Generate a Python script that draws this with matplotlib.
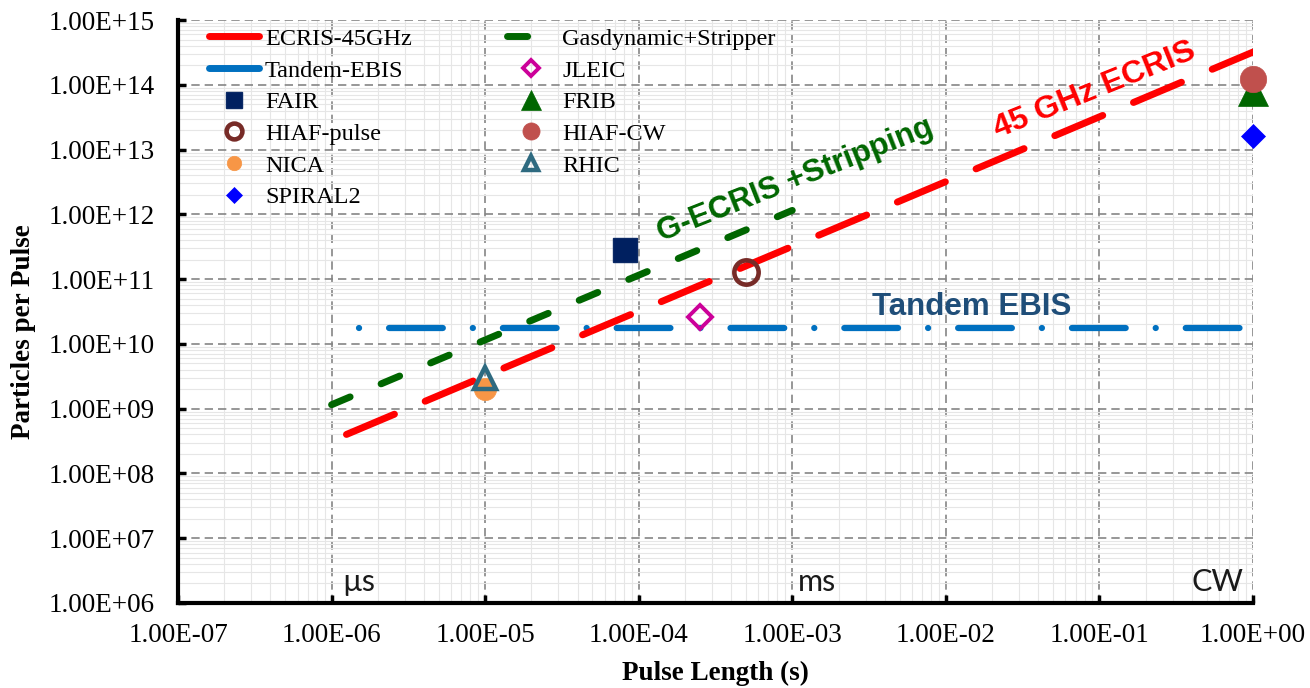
import numpy as np
import matplotlib
matplotlib.use("Agg")
import matplotlib.pyplot as plt
from matplotlib.lines import Line2D
from matplotlib.ticker import FixedLocator, FuncFormatter, NullFormatter

# ---------------------------------------------------------------------------
# Data
# ---------------------------------------------------------------------------
# Ion-source capability lines (pulse length [s] -> particles per pulse)
ecris_pulse = [1.25e-6, 1.0]
ecris_ppp = [4.0e8, 3.2e14]

gas_pulse = [1.0e-6, 1.0e-3]
gas_ppp = [1.15e9, 1.15e12]

ebis_pulse = [1.5e-6, 1.0]
ebis_ppp = [1.75e10, 1.75e10]

# Facility requirements
facility_names = ["FAIR", "HIAF-pulse", "NICA", "SPIRAL2",
                  "JLEIC", "FRIB", "HIAF-CW", "RHIC"]
facility_pulse = [8.1e-5, 5.0e-4, 1.0e-5, 1.0, 2.5e-4, 1.0, 1.0, 1.0e-5]
facility_ppp = [2.8e11, 1.28e11, 2.0e9, 1.6e13, 2.6e10, 8.0e13, 1.22e14, 3.0e9]

series_names = ["ECRIS-45GHz", "Gasdynamic+Stripper", "Tandem-EBIS"]

x_decades = list(range(-7, 1))
y_decades = list(range(6, 16))

unit_positions = [1e-6, 1e-3, 1e0]
unit_labels = ["\u00b5s", "ms", "CW"]

# ---------------------------------------------------------------------------
# Styling
# ---------------------------------------------------------------------------
SERIF = "Liberation Serif"
SANS = "Liberation Sans"
HUMANIST = ["Lato", "DejaVu Sans"]

RED = "#FF0000"
GREEN = "#006600"
BLUE = "#0070C0"

marker_styles = {
    "FAIR":       dict(marker="s", ms=17.5, mfc="#002060", mec="#0B2A66", mew=1.0),
    "HIAF-pulse": dict(marker="o", ms=17.5, mfc="none", mec="#772B27", mew=3.3),
    "NICA":       dict(marker="o", ms=16, mfc="#F79646", mec="#F79646", mew=0.5),
    "SPIRAL2":    dict(marker="D", ms=12, mfc="#0000FF", mec="#0000FF", mew=0.5),
    "JLEIC":      dict(marker="D", ms=12.5, mfc="none", mec="#CC0099", mew=2.8),
    "FRIB":       dict(marker="^", ms=22, mfc=GREEN, mec=GREEN, mew=0.5),
    "HIAF-CW":    dict(marker="o", ms=19, mfc="#C0504D", mec="#C0504D", mew=0.5),
    "RHIC":       dict(marker="^", ms=15.5, mfc="none", mec="#2E6A80", mew=3.2),
}

fig = plt.figure(figsize=(13.1, 6.88), dpi=100)
fig.patch.set_facecolor("white")
ax = fig.add_axes([178 / 1310, 85 / 688, 1075 / 1310, 583 / 688])

ax.set_xscale("log")
ax.set_yscale("log")
ax.set_xlim(10.0 ** x_decades[0], 10.0 ** x_decades[-1])
ax.set_ylim(10.0 ** y_decades[0], 10.0 ** y_decades[-1])


def decade_ticks(decades):
    major = [10.0 ** d for d in decades]
    minor = [m * 10.0 ** d for d in decades[:-1] for m in range(2, 10)]
    return major, minor


x_major, x_minor = decade_ticks(x_decades)
y_major, y_minor = decade_ticks(y_decades)
ax.xaxis.set_major_locator(FixedLocator(x_major))
ax.yaxis.set_major_locator(FixedLocator(y_major))
ax.xaxis.set_minor_locator(FixedLocator(x_minor))
ax.yaxis.set_minor_locator(FixedLocator(y_minor))
ax.xaxis.set_minor_formatter(NullFormatter())
ax.yaxis.set_minor_formatter(NullFormatter())

sci = FuncFormatter(lambda v, pos: f"{v:.2E}")
ax.xaxis.set_major_formatter(sci)
ax.yaxis.set_major_formatter(sci)

# Grid: light solid minor lines, grey dashed major lines
ax.set_axisbelow(True)
ax.grid(which="minor", color="#E6E6E6", lw=0.8, ls="-")
ax.grid(which="major", color="#858585", lw=1.2, ls=(0, (5, 3)))

for side in ("top", "right"):
    ax.spines[side].set_visible(False)
for side in ("left", "bottom"):
    ax.spines[side].set_linewidth(3)
    ax.spines[side].set_color("black")

ax.tick_params(which="major", direction="in", length=6, width=2.5, color="black",
               top=False, right=False, labelsize=19.5, labelfontfamily=SERIF)
ax.tick_params(which="minor", length=0)
ax.tick_params(axis="y", which="major", pad=16.5)
ax.tick_params(axis="x", which="major", pad=14.5)

# Source capability lines
ax.plot(ebis_pulse, ebis_ppp, color=BLUE, lw=4.5,
        ls=(0, (0.01, 4.8, 8.6, 4.8)), dash_capstyle="round", zorder=3)
ax.plot(gas_pulse, gas_ppp, color=GREEN, lw=5,
        ls=(0, (2.9, 4.84)), dash_capstyle="round", zorder=4)
ax.plot(ecris_pulse, ecris_ppp, color=RED, lw=5,
        ls=(0, (7.5, 4.8)), dash_capstyle="round", zorder=5)

# Facility points
handles = {}
for name, x, y in zip(facility_names, facility_pulse, facility_ppp):
    (h,) = ax.plot([x], [y], ls="none", clip_on=False, zorder=6,
                   **marker_styles[name])
    handles[name] = h

# Legend (filled column by column)
red_proxy = Line2D([], [], color=RED, lw=5, solid_capstyle="round")
blue_proxy = Line2D([], [], color=BLUE, lw=5, solid_capstyle="round")
green_proxy = Line2D([], [], color=GREEN, lw=5, ls=(0, (2.9, 4.84)),
                     dash_capstyle="round")
leg_handles = [red_proxy, blue_proxy, handles["FAIR"], handles["HIAF-pulse"],
               handles["NICA"], handles["SPIRAL2"],
               green_proxy, handles["JLEIC"], handles["FRIB"],
               handles["HIAF-CW"], handles["RHIC"]]
leg_labels = [series_names[0], series_names[2], "FAIR", "HIAF-pulse", "NICA",
              "SPIRAL2", series_names[1], "JLEIC", "FRIB", "HIAF-CW", "RHIC"]
ax.legend(leg_handles, leg_labels, ncol=2, loc="upper left",
          bbox_to_anchor=(0.0216, 1.0), borderaxespad=0, borderpad=0.32,
          frameon=False, prop={"family": SERIF, "size": 17.5},
          handlelength=2.05, handletextpad=0.25, columnspacing=3.9,
          labelspacing=0.4, markerscale=0.65)

# Annotations
ax.text(0.853, 0.880, "45 GHz ECRIS", transform=ax.transAxes, rotation=22,
        rotation_mode="anchor", ha="center", va="center", color=RED,
        fontsize=23, fontweight="bold", family=SANS, zorder=7)
ax.text(0.574, 0.7256, "G-ECRIS +Stripping", transform=ax.transAxes,
        rotation=21.5, rotation_mode="anchor", ha="center", va="center",
        color=GREEN, fontsize=22.5, fontweight="bold", family=SANS, zorder=7)
ax.text(0.7386, 0.5077, "Tandem EBIS", transform=ax.transAxes,
        ha="center", va="center", color="#1F4E79", fontsize=22.5,
        fontweight="bold", family=SANS, zorder=7)

unit_offsets = [(7.5, 8.5, "left"), (4.3, 8.5, "left"), (-6.5, 8.5, "right")]
for xpos, label, (dx, dy, ha) in zip(unit_positions, unit_labels, unit_offsets):
    ax.annotate(label, xy=(xpos, 1e6), xytext=(dx, dy), textcoords="offset points",
                ha=ha, va="baseline", fontsize=22, family=HUMANIST,
                color="#1A1A1A", zorder=7)

ax.set_xlabel("Pulse Length (s)", family=SERIF, fontsize=19.5, fontweight="bold")
ax.set_ylabel("Particles per Pulse", family=SERIF, fontsize=19.5, fontweight="bold")
ax.xaxis.set_label_coords(0.5, -0.10)
ax.yaxis.set_label_coords(-0.132, 0.465)

fig.savefig("out.png", dpi=100, facecolor="white")
